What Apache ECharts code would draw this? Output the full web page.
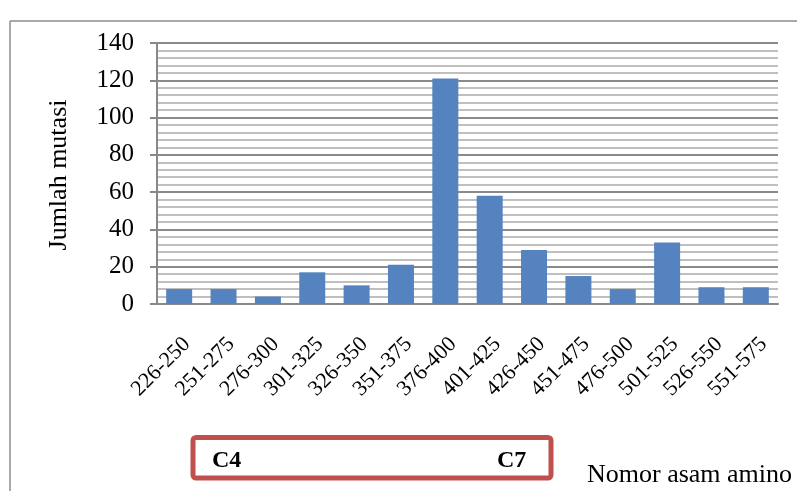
<!DOCTYPE html>
<html>
<head>
<meta charset="utf-8">
<script src="https://cdn.jsdelivr.net/npm/echarts@6/dist/echarts.min.js"></script>
<style>
  html, body { margin: 0; padding: 0; background: #fff; }
  #chart { width: 797px; height: 491px; }
</style>
</head>
<body>
<div id="chart"></div>
<script>
const categories = ['226-250', '251-275', '276-300', '301-325', '326-350', '351-375', '376-400',
  '401-425', '426-450', '451-475', '476-500', '501-525', '526-550', '551-575'];
const mutations = [8, 8, 4, 17, 10, 21, 121, 58, 29, 15, 8, 33, 9, 9];
const yTicks = [0, 20, 40, 60, 80, 100, 120, 140];

const serif = '"Liberation Serif", "Times New Roman", serif';
const chart = echarts.init(document.getElementById('chart'));

chart.setOption({
  animation: false,
  grid: { left: 157, right: 19, top: 43, bottom: 187 },
  xAxis: {
    type: 'category',
    data: categories,
    axisLine: { lineStyle: { color: '#888', width: 2 } },
    axisTick: { show: false },
    axisLabel: { rotate: 45, margin: 29, verticalAlign: 'top', fontFamily: serif, fontSize: 22, color: '#000' }
  },
  yAxis: {
    type: 'value',
    min: yTicks[0],
    max: yTicks[yTicks.length - 1],
    interval: 20,
    axisLine: { show: true, lineStyle: { color: '#888', width: 2 } },
    axisTick: { show: true, length: 7, lineStyle: { color: '#888', width: 2 } },
    axisLabel: { margin: 23, fontFamily: serif, fontSize: 25, color: '#000' },
    splitLine: { lineStyle: { color: '#8a8a8a', width: 2 } },
    minorTick: { show: false, splitNumber: 5 },
    minorSplitLine: { show: true, lineStyle: { color: '#ababab', width: 1.5 } }
  },
  series: [{
    type: 'bar',
    data: mutations,
    barWidth: 26,
    itemStyle: { color: '#5583bf' }
  }],
  graphic: [
    { type: 'line', shape: { x1: 10, y1: 21, x2: 797, y2: 21 }, style: { stroke: '#8c8c8c', lineWidth: 1.5 }, z: 0 },
    { type: 'line', shape: { x1: 10, y1: 21, x2: 10, y2: 491 }, style: { stroke: '#8c8c8c', lineWidth: 1.5 }, z: 0 },
    {
      type: 'text', x: 59, y: 175, rotation: Math.PI / 2,
      style: { text: 'Jumlah mutasi', font: '26px ' + serif, fill: '#000', align: 'center', verticalAlign: 'middle' }
    },
    {
      type: 'rect', shape: { x: 193, y: 437.5, width: 358, height: 40.5, r: 3 },
      style: { fill: '#fff', stroke: '#c0504d', lineWidth: 5 }
    },
    {
      type: 'text', x: 212, y: 461,
      style: { text: 'C4', font: 'bold 24px ' + serif, fill: '#000', verticalAlign: 'middle' }
    },
    {
      type: 'text', x: 497, y: 461,
      style: { text: 'C7', font: 'bold 24px ' + serif, fill: '#000', verticalAlign: 'middle' }
    },
    {
      type: 'text', x: 587, y: 475,
      style: { text: 'Nomor asam amino', font: '26px ' + serif, fill: '#000', verticalAlign: 'middle' }
    }
  ]
});
</script>
</body>
</html>
